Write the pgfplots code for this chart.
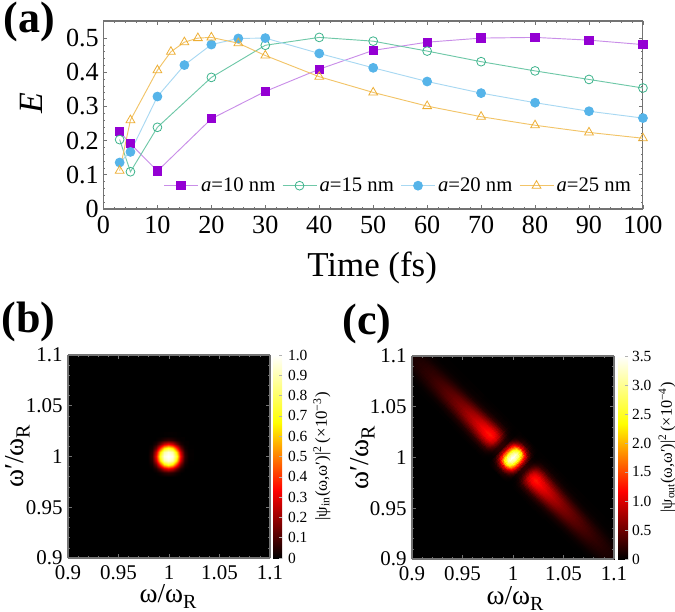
\documentclass[border=0pt]{standalone}
\usepackage{pgfplots}
\pgfplotsset{compat=1.18}
\usepackage{fontspec}
\setmainfont{Liberation Serif}
\usepgfplotslibrary{patchplots}
\definecolor{frame}{gray}{0.45}
\definecolor{cpa}{HTML}{9400D3}\definecolor{lpa}{HTML}{C98EE8}
\definecolor{cte}{HTML}{3DB38C}\definecolor{lte}{HTML}{6FC8A8}
\definecolor{cbl}{HTML}{56B4E9}\definecolor{lbl}{HTML}{A8D8F2}
\definecolor{cor}{HTML}{EDAE35}\definecolor{lor}{HTML}{F2C468}
\newcommand{\labR}{\raisebox{-0.22em}{\fontsize{15}{15}\selectfont R}}
\pgfplotsset{
 heat/.style={anchor=south west,scale only axis,width=151.5pt,height=152.25pt,
  view={0}{90},xmin=0.9,xmax=1.1,ymin=0.9,ymax=1.1,axis on top,
  axis background/.style={fill=black},
  colormap={hot}{rgb=(0,0,0) rgb=(1,0,0) rgb=(1,1,0) rgb=(1,1,1)},
  xtick={0.9,0.95,1,1.05,1.1},ytick={0.9,0.95,1,1.05,1.1},
  xticklabels={0.9,0.95,1,1.05,1.1},yticklabels={0.9,0.95,1,1.05,1.1},
  minor tick num=4,tick align=inside,tick pos=both,
  xticklabel pos=bottom,yticklabel pos=left,
  axis line style={frame,line width=0.8pt},
  every tick/.style={frame,line width=0.5pt},
  major tick length=3pt,minor tick length=1.5pt,
  ticklabel style={font=\fontsize{15.7}{16}\selectfont},
  label style={font=\fontsize{20.5}{22}\selectfont,inner sep=0pt},
  xticklabel style={yshift=-2pt},
  yticklabel style={xshift=-0.5pt},
 },
}
\begin{document}
\begin{tikzpicture}
\useasboundingbox (0,0) rectangle (506.25pt,458.25pt);
\node[inner sep=0pt,font=\fontsize{33}{34}\selectfont\bfseries] at (22.1pt,442pt) {(a)};
\node[inner sep=0pt,font=\fontsize{33}{34}\selectfont\bfseries] at (21.5pt,216.75pt) {(b)};
\node[inner sep=0pt,font=\fontsize{33}{34}\selectfont\bfseries] at (275.25pt,215.25pt) {(c)};
\begin{axis}[at={(77.6pt,301.5pt)},anchor=south west,scale only axis,width=404.6pt,height=141pt,
 xmin=0,xmax=100,ymin=0,ymax=0.55,clip=false,
 xtick={0,10,20,30,40,50,60,70,80,90,100},
 xticklabels={0,10,20,30,40,50,60,70,80,90,100},
 ytick={0,0.1,0.2,0.3,0.4,0.5},yticklabels={0,0.1,0.2,0.3,0.4,0.5},
 minor tick num=4,tick align=inside,tick pos=both,xticklabel pos=bottom,yticklabel pos=left,
 axis line style={frame,line width=0.8pt},every tick/.style={frame,line width=0.5pt},
 major tick length=3pt,minor tick length=1.5pt,
 ticklabel style={font=\fontsize{19.6}{20}\selectfont},
 xticklabel style={yshift=-2pt},
 xlabel={Time (fs)},ylabel={\textit{E}},
 xlabel style={font=\fontsize{26.2}{28}\selectfont,at={(axis description cs:0.498,-0.314)},anchor=center},
 ylabel style={font=\fontsize{25.5}{27}\selectfont,at={(axis description cs:-0.133,0.564)},anchor=center},
 legend columns=4,legend cell align=left,
 legend style={draw=none,fill=none,at={(axis description cs:0.547,0.124)},anchor=center,
  font=\fontsize{15.5}{16}\selectfont,inner sep=0pt,
  /tikz/every even column/.append style={column sep=3pt}},
 legend image code/.code={\draw[mark repeat=2,mark phase=2,#1] plot coordinates {(0pt,0pt) (12.75pt,0pt) (25.5pt,0pt)};},
]
\addplot[lpa,line width=0.7pt,mark=square*,mark size=3.1pt,mark options={draw=cpa,fill=cpa}] coordinates {
(3,0.226)(5,0.191)(10,0.111)(20,0.264)(30,0.344)(40,0.409)(50,0.464)(60,0.488)(70,0.500)(80,0.502)(90,0.494)(100,0.481)};
\addlegendentry{\textit{a}=10 nm}
\addplot[lte,line width=0.7pt,mark=o,mark size=3.3pt,mark options={draw=cte,fill=none,line width=0.6pt}] coordinates {
(3,0.203)(5,0.109)(10,0.239)(20,0.385)(30,0.479)(40,0.502)(50,0.491)(60,0.462)(70,0.431)(80,0.404)(90,0.379)(100,0.354)};
\addlegendentry{\textit{a}=15 nm}
\addplot[lbl,line width=0.7pt,mark=*,mark size=3.3pt,mark options={draw=cbl,fill=cbl}] coordinates {
(3,0.136)(5,0.167)(10,0.329)(15,0.421)(20,0.481)(25,0.499)(30,0.500)(40,0.455)(50,0.413)(60,0.373)(70,0.339)(80,0.311)(90,0.286)(100,0.266)};
\addlegendentry{\textit{a}=20 nm}
\addplot[lor,line width=0.7pt,mark=triangle,mark size=3.8pt,mark options={draw=cor,fill=none,line width=0.6pt}] coordinates {
(3,0.112)(5,0.260)(10,0.406)(12.5,0.460)(15,0.488)(17.5,0.500)(20,0.502)(25,0.485)(30,0.449)(40,0.387)(50,0.341)(60,0.301)(70,0.270)(80,0.245)(90,0.224)(100,0.207)};
\addlegendentry{\textit{a}=25 nm}
\end{axis}
\begin{axis}[heat,at={(51pt,39.75pt)},
 xlabel={ω/ω\labR},ylabel={ω′/ω\labR},
 xlabel style={at={(axis description cs:0.495,-0.19)},anchor=center},
 ylabel style={at={(axis description cs:-0.25,0.5)},anchor=center},
 point meta min=0,point meta max=1,
 colorbar,colorbar shift/.style={xshift=2.25pt},
 colorbar style={at={(parent axis.north east)},anchor=north west,width=6.75pt,ytick={0,0.1,0.2,0.3,0.4,0.5,0.6,0.7,0.8,0.9,1},
  yticklabels={0,0.1,0.2,0.3,0.4,0.5,0.6,0.7,0.8,0.9,1.0},
  yticklabel pos=right,tick pos=right,tick align=inside,minor tick num=0,
  axis line style={draw=none},
  every tick/.style={gray!60,line width=0.4pt},major tick length=2pt,
  ticklabel style={font=\fontsize{11.6}{12}\selectfont},yticklabel style={xshift=1pt},
  ylabel={|ψ\textsubscript{in}(ω,ω′)|\textsuperscript{2}\,(×10\textsuperscript{−3})},
  ylabel style={font=\fontsize{12.6}{14}\selectfont,at={(axis description cs:5.44,0.5)},anchor=center},
 }]
\addplot3[surf,shader=interp,patch type=bilinear,mesh/rows=13,mesh/cols=13] table[row sep=\\]{
x y z\\
0.976 0.976 0\\ 0.98 0.976 0\\ 0.984 0.976 0\\ 0.988 0.976 0\\ 0.992 0.976 0\\ 0.996 0.976 0\\ 1 0.976 0\\ 1.004 0.976 0\\ 1.008 0.976 0\\ 1.012 0.976 0\\ 1.016 0.976 0\\ 1.02 0.976 0\\ 1.024 0.976 0\\
0.976 0.98 0\\ 0.98 0.98 0\\ 0.984 0.98 0\\ 0.988 0.98 0\\ 0.992 0.98 0.001\\ 0.996 0.98 0.004\\ 1 0.98 0.005\\ 1.004 0.98 0.004\\ 1.008 0.98 0.001\\ 1.012 0.98 0\\ 1.016 0.98 0\\ 1.02 0.98 0\\ 1.024 0.98 0\\
0.976 0.984 0\\ 0.98 0.984 0\\ 0.984 0.984 0\\ 0.988 0.984 0.005\\ 0.992 0.984 0.023\\ 0.996 0.984 0.052\\ 1 0.984 0.068\\ 1.004 0.984 0.052\\ 1.008 0.984 0.023\\ 1.012 0.984 0.005\\ 1.016 0.984 0\\ 1.02 0.984 0\\ 1.024 0.984 0\\
0.976 0.988 0\\ 0.98 0.988 0\\ 0.984 0.988 0.005\\ 0.988 0.988 0.04\\ 0.992 0.988 0.139\\ 0.996 0.988 0.264\\ 1 0.988 0.321\\ 1.004 0.988 0.264\\ 1.008 0.988 0.139\\ 1.012 0.988 0.04\\ 1.016 0.988 0.005\\ 1.02 0.988 0\\ 1.024 0.988 0\\
0.976 0.992 0\\ 0.98 0.992 0.001\\ 0.984 0.992 0.023\\ 0.988 0.992 0.139\\ 0.992 0.992 0.386\\ 0.996 0.992 0.624\\ 1 0.992 0.714\\ 1.004 0.992 0.624\\ 1.008 0.992 0.386\\ 1.012 0.992 0.139\\ 1.016 0.992 0.023\\ 1.02 0.992 0.001\\ 1.024 0.992 0\\
0.976 0.996 0\\ 0.98 0.996 0.004\\ 0.984 0.996 0.052\\ 0.988 0.996 0.264\\ 0.992 0.996 0.624\\ 0.996 0.996 0.888\\ 1 0.996 0.959\\ 1.004 0.996 0.888\\ 1.008 0.996 0.624\\ 1.012 0.996 0.264\\ 1.016 0.996 0.052\\ 1.02 0.996 0.004\\ 1.024 0.996 0\\
0.976 1 0\\ 0.98 1 0.005\\ 0.984 1 0.068\\ 0.988 1 0.321\\ 0.992 1 0.714\\ 0.996 1 0.959\\ 1 1 1\\ 1.004 1 0.959\\ 1.008 1 0.714\\ 1.012 1 0.321\\ 1.016 1 0.068\\ 1.02 1 0.005\\ 1.024 1 0\\
0.976 1.004 0\\ 0.98 1.004 0.004\\ 0.984 1.004 0.052\\ 0.988 1.004 0.264\\ 0.992 1.004 0.624\\ 0.996 1.004 0.888\\ 1 1.004 0.959\\ 1.004 1.004 0.888\\ 1.008 1.004 0.624\\ 1.012 1.004 0.264\\ 1.016 1.004 0.052\\ 1.02 1.004 0.004\\ 1.024 1.004 0\\
0.976 1.008 0\\ 0.98 1.008 0.001\\ 0.984 1.008 0.023\\ 0.988 1.008 0.139\\ 0.992 1.008 0.386\\ 0.996 1.008 0.624\\ 1 1.008 0.714\\ 1.004 1.008 0.624\\ 1.008 1.008 0.386\\ 1.012 1.008 0.139\\ 1.016 1.008 0.023\\ 1.02 1.008 0.001\\ 1.024 1.008 0\\
0.976 1.012 0\\ 0.98 1.012 0\\ 0.984 1.012 0.005\\ 0.988 1.012 0.04\\ 0.992 1.012 0.139\\ 0.996 1.012 0.264\\ 1 1.012 0.321\\ 1.004 1.012 0.264\\ 1.008 1.012 0.139\\ 1.012 1.012 0.04\\ 1.016 1.012 0.005\\ 1.02 1.012 0\\ 1.024 1.012 0\\
0.976 1.016 0\\ 0.98 1.016 0\\ 0.984 1.016 0\\ 0.988 1.016 0.005\\ 0.992 1.016 0.023\\ 0.996 1.016 0.052\\ 1 1.016 0.068\\ 1.004 1.016 0.052\\ 1.008 1.016 0.023\\ 1.012 1.016 0.005\\ 1.016 1.016 0\\ 1.02 1.016 0\\ 1.024 1.016 0\\
0.976 1.02 0\\ 0.98 1.02 0\\ 0.984 1.02 0\\ 0.988 1.02 0\\ 0.992 1.02 0.001\\ 0.996 1.02 0.004\\ 1 1.02 0.005\\ 1.004 1.02 0.004\\ 1.008 1.02 0.001\\ 1.012 1.02 0\\ 1.016 1.02 0\\ 1.02 1.02 0\\ 1.024 1.02 0\\
0.976 1.024 0\\ 0.98 1.024 0\\ 0.984 1.024 0\\ 0.988 1.024 0\\ 0.992 1.024 0\\ 0.996 1.024 0\\ 1 1.024 0\\ 1.004 1.024 0\\ 1.008 1.024 0\\ 1.012 1.024 0\\ 1.016 1.024 0\\ 1.02 1.024 0\\ 1.024 1.024 0\\
};
\end{axis}
\begin{axis}[heat,at={(309pt,39pt)},
 xlabel={ω/ω\labR},ylabel={ω′/ω\labR},
 xlabel style={at={(axis description cs:0.51,-0.195)},anchor=center},
 ylabel style={at={(axis description cs:-0.245,0.4975)},anchor=center},
 point meta min=0,point meta max=3.5,
 colorbar,colorbar shift/.style={xshift=3pt},
 colorbar style={at={(parent axis.north east)},anchor=north west,width=7.5pt,ytick={0,0.5,1,1.5,2,2.5,3,3.5},
  yticklabels={0,0.5,1.0,1.5,2.0,2.5,3.0,3.5},
  yticklabel pos=right,tick pos=right,tick align=inside,minor tick num=0,
  axis line style={draw=none},
  every tick/.style={gray!60,line width=0.4pt},major tick length=2pt,
  ticklabel style={font=\fontsize{11.6}{12}\selectfont},yticklabel style={xshift=-0.5pt},
  ylabel={|ψ\textsubscript{out}(ω,ω′)|\textsuperscript{2}\,(×10\textsuperscript{−4})},
  ylabel style={font=\fontsize{12.2}{14}\selectfont,at={(axis description cs:4.9,0.55)},anchor=center},
 }]
\addplot3[surf,shader=interp,patch type=bilinear,mesh/rows=41,mesh/cols=11] table[row sep=\\,
  x expr={1+(\thisrow{e}-\thisrow{t})/1000},y expr={1+(\thisrow{e}+\thisrow{t})/1000},z=v]{
t e v\\
-110 -16 0\\ -110 -12 0\\ -110 -9 0.01\\ -110 -6 0.03\\ -110 -3 0.05\\ -110 0 0.06\\ -110 3 0.05\\ -110 6 0.03\\ -110 9 0.01\\ -110 12 0\\ -110 16 0\\
-100 -16 0\\ -100 -12 0.01\\ -100 -9 0.02\\ -100 -6 0.06\\ -100 -3 0.09\\ -100 0 0.1\\ -100 3 0.09\\ -100 6 0.06\\ -100 9 0.02\\ -100 12 0.01\\ -100 16 0\\
-90 -16 0\\ -90 -12 0.01\\ -90 -9 0.03\\ -90 -6 0.09\\ -90 -3 0.14\\ -90 0 0.16\\ -90 3 0.14\\ -90 6 0.09\\ -90 9 0.03\\ -90 12 0.01\\ -90 16 0\\
-80 -16 0\\ -80 -12 0.01\\ -80 -9 0.05\\ -80 -6 0.13\\ -80 -3 0.2\\ -80 0 0.23\\ -80 3 0.2\\ -80 6 0.13\\ -80 9 0.05\\ -80 12 0.01\\ -80 16 0\\
-70 -16 0\\ -70 -12 0.02\\ -70 -9 0.07\\ -70 -6 0.18\\ -70 -3 0.29\\ -70 0 0.33\\ -70 3 0.29\\ -70 6 0.18\\ -70 9 0.07\\ -70 12 0.02\\ -70 16 0\\
-60 -16 0\\ -60 -12 0.02\\ -60 -9 0.09\\ -60 -6 0.25\\ -60 -3 0.4\\ -60 0 0.45\\ -60 3 0.4\\ -60 6 0.25\\ -60 9 0.09\\ -60 12 0.02\\ -60 16 0\\
-50 -16 0\\ -50 -12 0.03\\ -50 -9 0.12\\ -50 -6 0.33\\ -50 -3 0.53\\ -50 0 0.6\\ -50 3 0.53\\ -50 6 0.33\\ -50 9 0.12\\ -50 12 0.03\\ -50 16 0\\
-40 -16 0\\ -40 -12 0.04\\ -40 -9 0.16\\ -40 -6 0.45\\ -40 -3 0.72\\ -40 0 0.82\\ -40 3 0.72\\ -40 6 0.45\\ -40 9 0.16\\ -40 12 0.04\\ -40 16 0\\
-35 -16 0\\ -35 -12 0.05\\ -35 -9 0.19\\ -35 -6 0.52\\ -35 -3 0.84\\ -35 0 0.95\\ -35 3 0.84\\ -35 6 0.52\\ -35 9 0.19\\ -35 12 0.05\\ -35 16 0\\
-30 -16 0\\ -30 -12 0.06\\ -30 -9 0.22\\ -30 -6 0.6\\ -30 -3 0.97\\ -30 0 1.1\\ -30 3 0.97\\ -30 6 0.6\\ -30 9 0.22\\ -30 12 0.06\\ -30 16 0\\
-25 -16 0\\ -25 -12 0.06\\ -25 -9 0.25\\ -25 -6 0.68\\ -25 -3 1.09\\ -25 0 1.24\\ -25 3 1.09\\ -25 6 0.68\\ -25 9 0.25\\ -25 12 0.06\\ -25 16 0\\
-22.5 -16 0\\ -22.5 -12 0.06\\ -22.5 -9 0.25\\ -22.5 -6 0.7\\ -22.5 -3 1.12\\ -22.5 0 1.27\\ -22.5 3 1.12\\ -22.5 6 0.7\\ -22.5 9 0.25\\ -22.5 12 0.06\\ -22.5 16 0\\
-20 -16 0\\ -20 -12 0.06\\ -20 -9 0.24\\ -20 -6 0.66\\ -20 -3 1.06\\ -20 0 1.2\\ -20 3 1.06\\ -20 6 0.66\\ -20 9 0.24\\ -20 12 0.06\\ -20 16 0\\
-17.5 -16 0\\ -17.5 -12 0.05\\ -17.5 -9 0.2\\ -17.5 -6 0.54\\ -17.5 -3 0.86\\ -17.5 0 0.98\\ -17.5 3 0.86\\ -17.5 6 0.54\\ -17.5 9 0.2\\ -17.5 12 0.05\\ -17.5 16 0\\
-15 -16 0\\ -15 -12 0.03\\ -15 -9 0.11\\ -15 -6 0.3\\ -15 -3 0.48\\ -15 0 0.55\\ -15 3 0.48\\ -15 6 0.3\\ -15 9 0.11\\ -15 12 0.03\\ -15 16 0\\
-12.5 -16 0\\ -12.5 -12 0.01\\ -12.5 -9 0.04\\ -12.5 -6 0.12\\ -12.5 -3 0.19\\ -12.5 0 0.22\\ -12.5 3 0.19\\ -12.5 6 0.12\\ -12.5 9 0.04\\ -12.5 12 0.01\\ -12.5 16 0\\
-10 -16 0\\ -10 -12 0.01\\ -10 -9 0.04\\ -10 -6 0.11\\ -10 -3 0.18\\ -10 0 0.2\\ -10 3 0.18\\ -10 6 0.11\\ -10 9 0.04\\ -10 12 0.01\\ -10 16 0\\
-7.5 -16 0\\ -7.5 -12 0.06\\ -7.5 -9 0.26\\ -7.5 -6 0.61\\ -7.5 -3 0.8\\ -7.5 0 0.85\\ -7.5 3 0.8\\ -7.5 6 0.61\\ -7.5 9 0.26\\ -7.5 12 0.06\\ -7.5 16 0\\
-5 -16 0\\ -5 -12 0.13\\ -5 -9 0.57\\ -5 -6 1.37\\ -5 -3 1.79\\ -5 0 1.9\\ -5 3 1.79\\ -5 6 1.37\\ -5 9 0.57\\ -5 12 0.13\\ -5 16 0\\
-2.5 -16 0\\ -2.5 -12 0.21\\ -2.5 -9 0.9\\ -2.5 -6 2.16\\ -2.5 -3 2.82\\ -2.5 0 3\\ -2.5 3 2.82\\ -2.5 6 2.16\\ -2.5 9 0.9\\ -2.5 12 0.21\\ -2.5 16 0\\
0 -16 0\\ 0 -12 0.25\\ 0 -9 1.05\\ 0 -6 2.52\\ 0 -3 3.29\\ 0 0 3.5\\ 0 3 3.29\\ 0 6 2.52\\ 0 9 1.05\\ 0 12 0.25\\ 0 16 0\\
2.5 -16 0\\ 2.5 -12 0.21\\ 2.5 -9 0.9\\ 2.5 -6 2.16\\ 2.5 -3 2.82\\ 2.5 0 3\\ 2.5 3 2.82\\ 2.5 6 2.16\\ 2.5 9 0.9\\ 2.5 12 0.21\\ 2.5 16 0\\
5 -16 0\\ 5 -12 0.13\\ 5 -9 0.57\\ 5 -6 1.37\\ 5 -3 1.79\\ 5 0 1.9\\ 5 3 1.79\\ 5 6 1.37\\ 5 9 0.57\\ 5 12 0.13\\ 5 16 0\\
7.5 -16 0\\ 7.5 -12 0.06\\ 7.5 -9 0.26\\ 7.5 -6 0.61\\ 7.5 -3 0.8\\ 7.5 0 0.85\\ 7.5 3 0.8\\ 7.5 6 0.61\\ 7.5 9 0.26\\ 7.5 12 0.06\\ 7.5 16 0\\
10 -16 0\\ 10 -12 0.01\\ 10 -9 0.04\\ 10 -6 0.11\\ 10 -3 0.18\\ 10 0 0.2\\ 10 3 0.18\\ 10 6 0.11\\ 10 9 0.04\\ 10 12 0.01\\ 10 16 0\\
12.5 -16 0\\ 12.5 -12 0.01\\ 12.5 -9 0.04\\ 12.5 -6 0.12\\ 12.5 -3 0.19\\ 12.5 0 0.22\\ 12.5 3 0.19\\ 12.5 6 0.12\\ 12.5 9 0.04\\ 12.5 12 0.01\\ 12.5 16 0\\
15 -16 0\\ 15 -12 0.03\\ 15 -9 0.11\\ 15 -6 0.3\\ 15 -3 0.48\\ 15 0 0.55\\ 15 3 0.48\\ 15 6 0.3\\ 15 9 0.11\\ 15 12 0.03\\ 15 16 0\\
17.5 -16 0\\ 17.5 -12 0.05\\ 17.5 -9 0.2\\ 17.5 -6 0.54\\ 17.5 -3 0.86\\ 17.5 0 0.98\\ 17.5 3 0.86\\ 17.5 6 0.54\\ 17.5 9 0.2\\ 17.5 12 0.05\\ 17.5 16 0\\
20 -16 0\\ 20 -12 0.06\\ 20 -9 0.24\\ 20 -6 0.66\\ 20 -3 1.06\\ 20 0 1.2\\ 20 3 1.06\\ 20 6 0.66\\ 20 9 0.24\\ 20 12 0.06\\ 20 16 0\\
22.5 -16 0\\ 22.5 -12 0.06\\ 22.5 -9 0.25\\ 22.5 -6 0.7\\ 22.5 -3 1.12\\ 22.5 0 1.27\\ 22.5 3 1.12\\ 22.5 6 0.7\\ 22.5 9 0.25\\ 22.5 12 0.06\\ 22.5 16 0\\
25 -16 0\\ 25 -12 0.06\\ 25 -9 0.25\\ 25 -6 0.68\\ 25 -3 1.09\\ 25 0 1.24\\ 25 3 1.09\\ 25 6 0.68\\ 25 9 0.25\\ 25 12 0.06\\ 25 16 0\\
30 -16 0\\ 30 -12 0.06\\ 30 -9 0.22\\ 30 -6 0.6\\ 30 -3 0.97\\ 30 0 1.1\\ 30 3 0.97\\ 30 6 0.6\\ 30 9 0.22\\ 30 12 0.06\\ 30 16 0\\
35 -16 0\\ 35 -12 0.05\\ 35 -9 0.19\\ 35 -6 0.52\\ 35 -3 0.84\\ 35 0 0.95\\ 35 3 0.84\\ 35 6 0.52\\ 35 9 0.19\\ 35 12 0.05\\ 35 16 0\\
40 -16 0\\ 40 -12 0.04\\ 40 -9 0.16\\ 40 -6 0.45\\ 40 -3 0.72\\ 40 0 0.82\\ 40 3 0.72\\ 40 6 0.45\\ 40 9 0.16\\ 40 12 0.04\\ 40 16 0\\
50 -16 0\\ 50 -12 0.03\\ 50 -9 0.12\\ 50 -6 0.33\\ 50 -3 0.53\\ 50 0 0.6\\ 50 3 0.53\\ 50 6 0.33\\ 50 9 0.12\\ 50 12 0.03\\ 50 16 0\\
60 -16 0\\ 60 -12 0.02\\ 60 -9 0.09\\ 60 -6 0.25\\ 60 -3 0.4\\ 60 0 0.45\\ 60 3 0.4\\ 60 6 0.25\\ 60 9 0.09\\ 60 12 0.02\\ 60 16 0\\
70 -16 0\\ 70 -12 0.02\\ 70 -9 0.07\\ 70 -6 0.18\\ 70 -3 0.29\\ 70 0 0.33\\ 70 3 0.29\\ 70 6 0.18\\ 70 9 0.07\\ 70 12 0.02\\ 70 16 0\\
80 -16 0\\ 80 -12 0.01\\ 80 -9 0.05\\ 80 -6 0.13\\ 80 -3 0.2\\ 80 0 0.23\\ 80 3 0.2\\ 80 6 0.13\\ 80 9 0.05\\ 80 12 0.01\\ 80 16 0\\
90 -16 0\\ 90 -12 0.01\\ 90 -9 0.03\\ 90 -6 0.09\\ 90 -3 0.14\\ 90 0 0.16\\ 90 3 0.14\\ 90 6 0.09\\ 90 9 0.03\\ 90 12 0.01\\ 90 16 0\\
100 -16 0\\ 100 -12 0.01\\ 100 -9 0.02\\ 100 -6 0.06\\ 100 -3 0.09\\ 100 0 0.1\\ 100 3 0.09\\ 100 6 0.06\\ 100 9 0.02\\ 100 12 0.01\\ 100 16 0\\
110 -16 0\\ 110 -12 0\\ 110 -9 0.01\\ 110 -6 0.03\\ 110 -3 0.05\\ 110 0 0.06\\ 110 3 0.05\\ 110 6 0.03\\ 110 9 0.01\\ 110 12 0\\ 110 16 0\\
};
\end{axis}
\end{tikzpicture}
\end{document}
